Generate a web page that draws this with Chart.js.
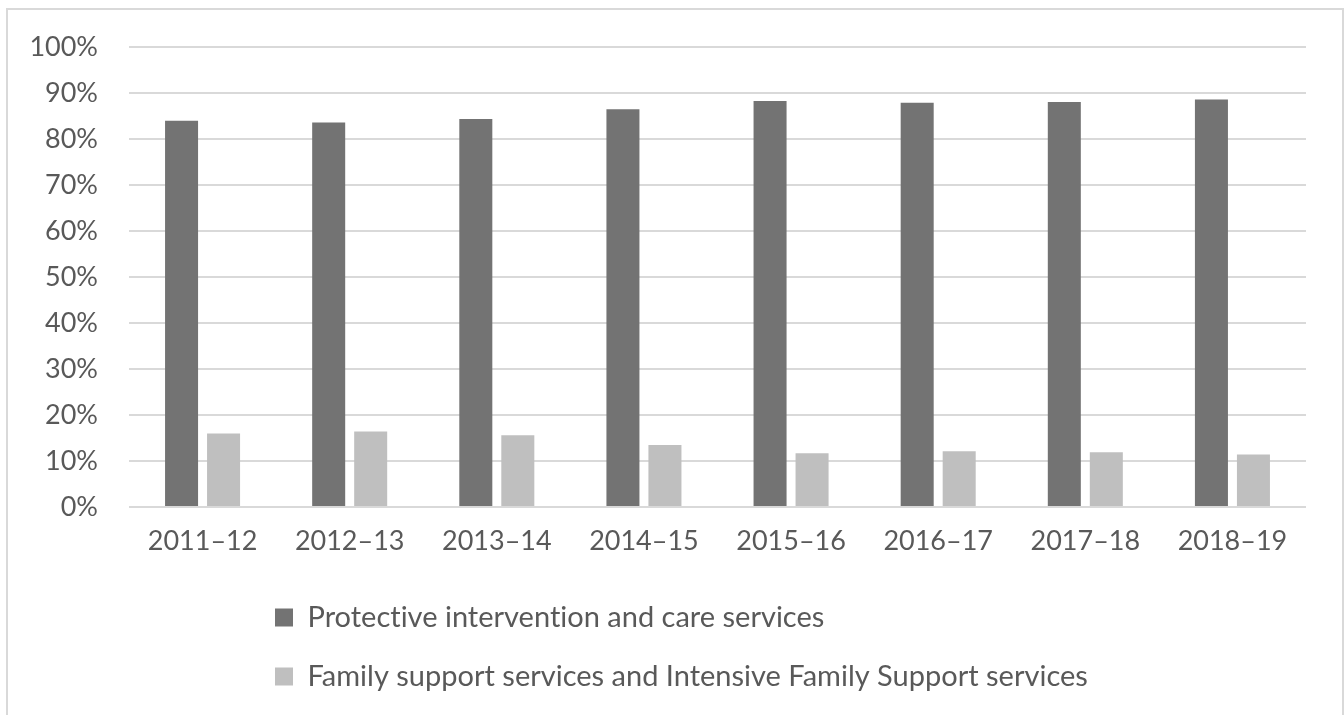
<!DOCTYPE html>
<html>
<head>
<meta charset="utf-8">
<script src="https://cdn.jsdelivr.net/npm/chart.js@4/dist/chart.umd.min.js"></script>
<style>
  html, body { margin: 0; padding: 0; background: #ffffff; }
  #wrap { width: 1344px; height: 715px; position: relative; }
</style>
</head>
<body>
<div id="wrap"><canvas id="c" width="1344" height="715"></canvas></div>
<script>
const categories = ["2011–12", "2012–13", "2013–14", "2014–15", "2015–16", "2016–17", "2017–18", "2018–19"];
const protectiveValues = [84.0, 83.6, 84.4, 86.5, 88.3, 87.9, 88.1, 88.6];
const familySupportValues = [16.0, 16.4, 15.6, 13.5, 11.7, 12.1, 11.9, 11.4];
const seriesNames = ["Protective intervention and care services", "Family support services and Intensive Family Support services"];
const yTicks = [0, 10, 20, 30, 40, 50, 60, 70, 80, 90, 100];

const FONT = "Lato, 'Open Sans', 'DejaVu Sans', sans-serif";
const TEXT = "#595959";

const frame = {
  id: 'frame',
  beforeDraw(chart) {
    const ctx = chart.ctx;
    if ('textRendering' in ctx) { ctx.textRendering = 'optimizeSpeed'; }
    ctx.save();
    ctx.fillStyle = '#ffffff';
    ctx.fillRect(0, 0, chart.width, chart.height);
    ctx.strokeStyle = '#d9d9d9';
    ctx.lineWidth = 2;
    ctx.strokeRect(7, 9, 1336, 740);
    ctx.restore();
  },
  afterLayout(chart) {
    if (chart.legend) {
      chart.legend.left = 245;
    }
  }
};

new Chart(document.getElementById('c'), {
  type: 'bar',
  data: {
    labels: categories,
    datasets: [
      { label: seriesNames[0], data: protectiveValues, backgroundColor: '#737373', borderWidth: 0 },
      { label: seriesNames[1], data: familySupportValues, backgroundColor: '#bfbfbf', borderWidth: 0 }
    ]
  },
  options: {
    responsive: false,
    animation: false,
    devicePixelRatio: 1,
    categoryPercentage: 0.571,
    barPercentage: 0.786,
    layout: { padding: { left: 0, right: 38, top: 46, bottom: 14 } },
    plugins: {
      tooltip: { enabled: false },
      legend: {
        position: 'bottom',
        align: 'start',
        labels: {
          boxWidth: 18,
          boxHeight: 18,
          padding: 30,
          color: TEXT,
          font: { family: FONT, size: 29 }
        }
      }
    },
    scales: {
      x: {
        grid: { display: false, drawTicks: false },
        border: { display: false },
        ticks: { color: TEXT, font: { family: FONT, size: 27 }, padding: 18, maxRotation: 0 },
        afterFit(scale) { scale.height = 66; }
      },
      y: {
        min: 0,
        max: 100,
        afterBuildTicks(scale) { scale.ticks = yTicks.map(v => ({ value: v })); },
        grid: { color: '#d9d9d9', lineWidth: 2, drawTicks: false },
        border: { display: false },
        ticks: {
          color: TEXT,
          font: { family: FONT, size: 27 },
          padding: 31,
          callback: (v) => v + '%'
        },
        afterFit(scale) { scale.width = 129; }
      }
    }
  },
  plugins: [frame]
});
</script>
</body>
</html>
